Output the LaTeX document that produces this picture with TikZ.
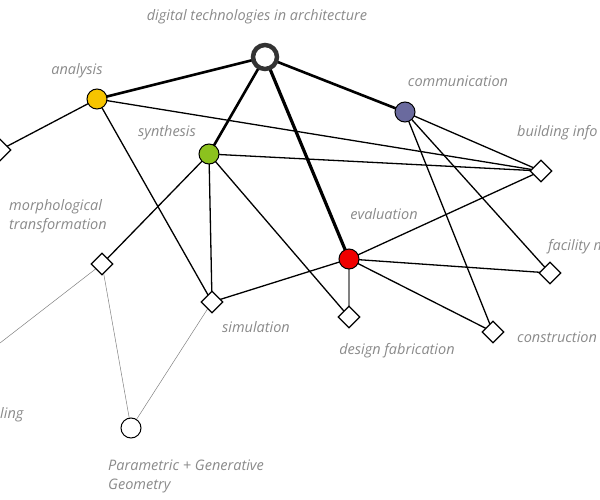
\documentclass[tikz,border=0pt]{standalone}
\usepackage{fontspec}
\setmainfont{Open Sans}
\usetikzlibrary{shapes.geometric}
\definecolor{lbl}{HTML}{8A8A8A}
\begin{document}
\begin{tikzpicture}[x=1pt,y=-1pt,
  dia/.style={draw,fill=white,diamond,minimum size=22pt,inner sep=0pt,line width=1.2pt},
  dot/.style={circle,draw,minimum size=20pt,inner sep=0pt,line width=1pt},
  hubs/.style={circle,draw=black!80,line width=4.5pt,fill=white,minimum size=24pt,inner sep=0pt},
  lab/.style={text=lbl,font=\itshape\fontsize{14.5}{19}\selectfont,inner sep=0pt},
  e/.style={line width=1.3pt},
  big/.style={line width=2.6pt},
  thin/.style={line width=0.5pt,draw=gray}]
\path[use as bounding box,clip] (0,0) rectangle (600,500);
\coordinate (hub) at (265,57);
\coordinate (ana) at (97,99);
\coordinate (com) at (405,112);
\coordinate (syn) at (209,154);
\coordinate (eva) at (349,259);
\coordinate (par) at (131,428);
\coordinate (lc) at (0,150);
\coordinate (bi) at (541,171);
\coordinate (mor) at (102,264);
\coordinate (sim) at (212,302);
\coordinate (fab) at (349,317);
\coordinate (fac) at (550,273);
\coordinate (con) at (493,332);
\coordinate (lm) at (0,343);
\draw[thin] (mor) -- (lm);
\draw[thin] (mor) -- (par);
\draw[thin] (sim) -- (par);
\draw[e] (ana) -- (lc);
\draw[e] (ana) -- (sim);
\draw[e] (ana) -- (bi);
\draw[e] (syn) -- (bi);
\draw[e] (syn) -- (mor);
\draw[e] (syn) -- (sim);
\draw[e] (syn) -- (fab);
\draw[e] (eva) -- (bi);
\draw[e] (eva) -- (sim);
\draw[e] (eva) -- (fac);
\draw[e] (eva) -- (con);
\draw[e,draw=gray] (eva) -- (fab);
\draw[e] (com) -- (bi);
\draw[e] (com) -- (fac);
\draw[e] (com) -- (con);
\draw[big] (hub) -- (ana);
\draw[big] (hub) -- (syn);
\draw[big,line width=3.2pt] (hub) -- (eva);
\draw[big] (hub) -- (com);
\node[hubs] (nhub) at (hub) {};
\node[dot,fill={rgb,255:red,246;green,196;blue,0}] (nana) at (ana) {};
\node[dot,fill={rgb,255:red,106;green,106;blue,158}] (ncom) at (com) {};
\node[dot,fill={rgb,255:red,140;green,194;blue,30}] (nsyn) at (syn) {};
\node[dot,fill={rgb,255:red,240;green,0;blue,0}] (neva) at (eva) {};
\node[dot,fill=white] (npar) at (par) {};
\foreach \n in {lc,bi,mor,sim,fab,fac,con} \node[dia] (n\n) at (\n) {};
\node[lab] (t1) at (257,17) {digital technologies in architecture};
\node[lab] (t2) at (77,71) {analysis};
\node[lab] (t3) at (458,81) {communication};
\node[lab] (t4) at (167,133) {synthesis};
\node[lab,anchor=west] (t5) at (517,133) {building info};
\node[lab,anchor=west,align=left] (t6) at (9,216) {morphological\\transformation};
\node[lab] (t7) at (384,214) {evaluation};
\node[lab,anchor=west] (t8) at (548,247) {facility m};
\node[lab] (t9) at (256,327) {simulation};
\node[lab] (t10) at (397,351) {design fabrication};
\node[lab,anchor=west] (t11) at (517,337) {construction};
\node[lab,anchor=west] (t12) at (0,415) {ling};
\node[lab,anchor=west,align=left] (t13) at (108,476) {Parametric + Generative\\Geometry};
\end{tikzpicture}
\end{document}
